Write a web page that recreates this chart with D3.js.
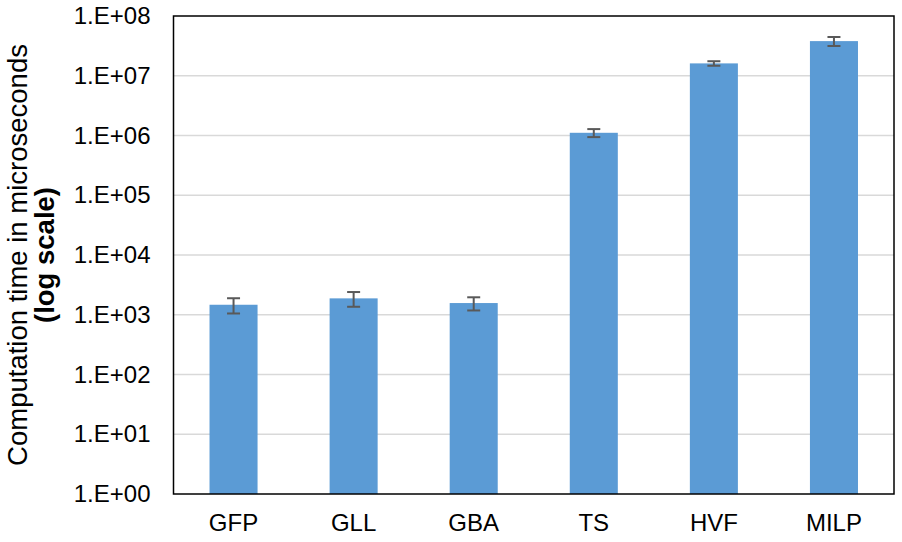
<!DOCTYPE html>
<html>
<head>
<meta charset="utf-8">
<script src="https://cdn.jsdelivr.net/npm/d3@7"></script>
<style>
  body { margin: 0; background: #fff; }
  text { font-family: "Liberation Sans", Arial, sans-serif; fill: #000; }
</style>
</head>
<body>
<div id="chart"></div>
<script>
var methods = ["GFP", "GLL", "GBA", "TS", "HVF", "MILP"];
var meanTimes = [1470, 1880, 1570, 1110000, 16100000, 38000000];
var errTimes = [420, 520, 390, 170000, 1400000, 6500000];
var tickValues = [1, 10, 100, 1e3, 1e4, 1e5, 1e6, 1e7, 1e8];

var svgWidth = 902;
var svgHeight = 542;

var margin = {
  top: 16,
  right: 8,
  bottom: 48,
  left: 173.5
};

var width = svgWidth - margin.left - margin.right;
var height = svgHeight - margin.top - margin.bottom;

var svg = d3.select("#chart")
  .append("svg")
  .attr("width", svgWidth)
  .attr("height", svgHeight);

var chartGroup = svg.append("g")
  .attr("transform", `translate(${margin.left}, ${margin.top})`);

var data = methods.map(function(m, i) {
  return { name: m, value: meanTimes[i], err: errTimes[i] };
});

var xBandScale = d3.scaleBand()
  .domain(methods)
  .range([0, width])
  .paddingInner(0.6)
  .paddingOuter(0.3);

var yLogScale = d3.scaleLog()
  .domain([1, 1e8])
  .range([height, 0]);

// gridlines
chartGroup.append("g")
  .selectAll("line")
  .data(tickValues.slice(1, -1))
  .enter()
  .append("line")
  .attr("x1", 0)
  .attr("x2", width)
  .attr("y1", d => yLogScale(d))
  .attr("y2", d => yLogScale(d))
  .attr("stroke", "#d9d9d9")
  .attr("stroke-width", 1.5);

// bars
chartGroup.selectAll("rect.bar")
  .data(data)
  .enter()
  .append("rect")
  .attr("class", "bar")
  .attr("x", d => xBandScale(d.name))
  .attr("y", d => yLogScale(d.value))
  .attr("width", xBandScale.bandwidth())
  .attr("height", d => height - yLogScale(d.value))
  .attr("fill", "#5b9bd5");

// error bars
var errGroup = chartGroup.selectAll("g.err")
  .data(data)
  .enter()
  .append("g")
  .attr("class", "err")
  .attr("stroke", "#595959")
  .attr("stroke-width", 2);

errGroup.append("line")
  .attr("x1", d => xBandScale(d.name) + xBandScale.bandwidth() / 2)
  .attr("x2", d => xBandScale(d.name) + xBandScale.bandwidth() / 2)
  .attr("y1", d => yLogScale(d.value + d.err))
  .attr("y2", d => yLogScale(d.value - d.err));

[1, -1].forEach(function(sign) {
  errGroup.append("line")
    .attr("x1", d => xBandScale(d.name) + xBandScale.bandwidth() / 2 - 6.5)
    .attr("x2", d => xBandScale(d.name) + xBandScale.bandwidth() / 2 + 6.5)
    .attr("y1", d => yLogScale(d.value + sign * d.err))
    .attr("y2", d => yLogScale(d.value + sign * d.err));
});

// axes
var bottomAxis = d3.axisBottom(xBandScale).tickSize(0).tickPadding(20);
var leftAxis = d3.axisLeft(yLogScale)
  .tickValues(tickValues)
  .tickSize(0)
  .tickPadding(23)
  .tickFormat(d => "1.E+" + String(Math.round(Math.log10(d))).padStart(2, "0"));

var xAxisG = chartGroup.append("g")
  .attr("transform", `translate(0, ${height})`)
  .call(bottomAxis);

var yAxisG = chartGroup.append("g")
  .call(leftAxis);

[xAxisG, yAxisG].forEach(function(g) {
  g.select(".domain").remove();
  g.selectAll("text")
    .attr("font-size", 24)
    .attr("font-family", "Liberation Sans, Arial, sans-serif")
    .attr("fill", "#000");
});

// plot frame
chartGroup.append("rect")
  .attr("x", 0)
  .attr("y", 0)
  .attr("width", width)
  .attr("height", height)
  .attr("fill", "none")
  .attr("stroke", "#000")
  .attr("stroke-width", 1.5);

// axis title
var yTitle = svg.append("text")
  .attr("transform", `translate(27, ${margin.top + height / 2}) rotate(-90)`)
  .attr("text-anchor", "middle")
  .attr("font-size", 27.5);

yTitle.append("tspan")
  .attr("x", 0)
  .attr("y", 0)
  .text("Computation time in microseconds");

yTitle.append("tspan")
  .attr("x", 0)
  .attr("y", 27)
  .attr("font-weight", "bold")
  .text("(log scale)");
</script>
</body>
</html>
